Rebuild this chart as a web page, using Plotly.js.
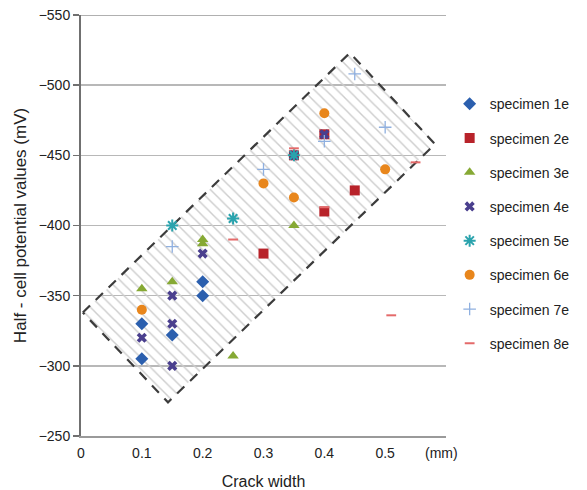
<!DOCTYPE html>
<html><head><meta charset="utf-8">
<script src="https://cdn.plot.ly/plotly-3.0.1.min.js"></script>
<style>html,body{margin:0;padding:0;background:#fff}</style>
</head><body><div id="chart" style="width:587px;height:490px"></div>
<script>
// Data (crack width in mm, half-cell potential in mV)
const s1x = [0.10, 0.10, 0.15, 0.20, 0.20];
const s1y = [-330, -305, -322, -360, -350];
const s2x = [0.30, 0.35, 0.40, 0.40, 0.45];
const s2y = [-380, -450, -410, -465, -425];
const s3x = [0.10, 0.15, 0.20, 0.20, 0.25, 0.35];
const s3y = [-355, -360, -390, -387, -307, -400];
const s4x = [0.10, 0.15, 0.15, 0.15, 0.20, 0.35, 0.40];
const s4y = [-320, -350, -330, -300, -380, -450, -465];
const s5x = [0.15, 0.25, 0.35];
const s5y = [-400, -405, -450];
const s6x = [0.10, 0.30, 0.35, 0.40, 0.50];
const s6y = [-340, -430, -420, -480, -440];
const s7x = [0.15, 0.30, 0.40, 0.45, 0.50];
const s7y = [-385, -440, -460, -508, -470];
const s8x = [0.25, 0.35, 0.40, 0.55, 0.51];
const s8y = [-390, -455, -413, -445, -336];
const seriesNames = ['specimen 1e','specimen 2e','specimen 3e','specimen 4e','specimen 5e','specimen 6e','specimen 7e','specimen 8e'];
const xTickVals = [0, 0.1, 0.2, 0.3, 0.4, 0.5];
const xTickText = ['0', '0.1', '0.2', '0.3', '0.4', '0.5'];
const yTickVals = [-550, -500, -450, -400, -350, -300, -250];
// Hatched band corners (crack width, mV): left, top, right, bottom
const bandX = [0.003, 0.442, 0.582, 0.143, 0.003];
const bandY = [-338, -523, -458, -274, -338];

const styles = [
  {symbol:'diamond', color:'#2b5fae', size:10},
  {symbol:'square', color:'#b8232a', size:10},
  {symbol:'triangle-up', color:'#86a934', size:10},
  {symbol:'x', color:'#4a3f8e', size:9},
  {symbol:'asterisk-open', color:'#2aa3ad', size:10, lw:2},
  {symbol:'circle', color:'#e8861c', size:10},
  {symbol:'cross-thin-open', color:'#8fb0e0', size:9, lw:1.3},
  {symbol:'line-ew-open', color:'#e46a6a', size:7, lw:2}
];
const xs = [s1x,s2x,s3x,s4x,s5x,s6x,s7x,s8x];
const ys = [s1y,s2y,s3y,s4y,s5y,s6y,s7y,s8y];

const traces = [{
  x: bandX, y: bandY, mode:'lines', fill:'toself', fillcolor:'rgba(0,0,0,0)',
  fillpattern:{shape:'\\', fgcolor:'#cdcdcd', bgcolor:'rgba(0,0,0,0)', size:8, solidity:0.18},
  line:{color:'#3c3c3c', width:2.2, dash:'10px,8px'},
  showlegend:false, hoverinfo:'skip'
}];
for (let i=0;i<8;i++){
  const st = styles[i];
  const m = {symbol:st.symbol, color:st.color, size:st.size};
  if (st.lw) m.line = {color:st.color, width:st.lw};
  traces.push({x:xs[i], y:ys[i], mode:'markers', type:'scatter', name:seriesNames[i],
    legendgroup:'g'+i, marker:m});
}

const layout = {
  width:587, height:490,
  margin:{l:81, r:141, t:15, b:54},
  paper_bgcolor:'#fff', plot_bgcolor:'#fff',
  font:{family:'Liberation Sans, Arial, sans-serif', size:14, color:'#222'},
  xaxis:{range:[0,0.6], tickvals:xTickVals, ticktext:xTickText, showgrid:false, zeroline:false,
    showline:true, linecolor:'#9a9a9a', linewidth:2, ticks:'', tickfont:{size:14}, ticklabelstandoff:3,
    title:{text:'Crack width', font:{size:16}, standoff:16}},
  yaxis:{range:[-250,-550], tickvals:yTickVals, showgrid:true, gridcolor:'#b8b8b8', gridwidth:1.5,
    zeroline:false, showline:true, linecolor:'#707070', linewidth:2, ticks:'outside', ticklen:6,
    tickcolor:'#707070', tickwidth:1.5, tickfont:{size:14},
    title:{text:'Half - cell potential values (mV)', font:{size:17}, standoff:8}},
  legend:{x:1.01, xanchor:'left', y:0.826, yanchor:'top', font:{size:14, color:'#222'},
    tracegroupgap:13, traceorder:'grouped', bgcolor:'rgba(0,0,0,0)'},
  annotations:[{text:'(mm)', xref:'x', yref:'paper', x:0.593, y:0, yanchor:'top', yshift:-7,
    showarrow:false, font:{size:14, color:'#222'}}],
  shapes:[{type:'line', xref:'paper', yref:'y', x0:0, x1:1, y0:-550, y1:-550, line:{color:'#b0b0b0', width:2}}]
};
Plotly.newPlot('chart', traces, layout, {displayModeBar:false, staticPlot:true});
</script></body></html>
